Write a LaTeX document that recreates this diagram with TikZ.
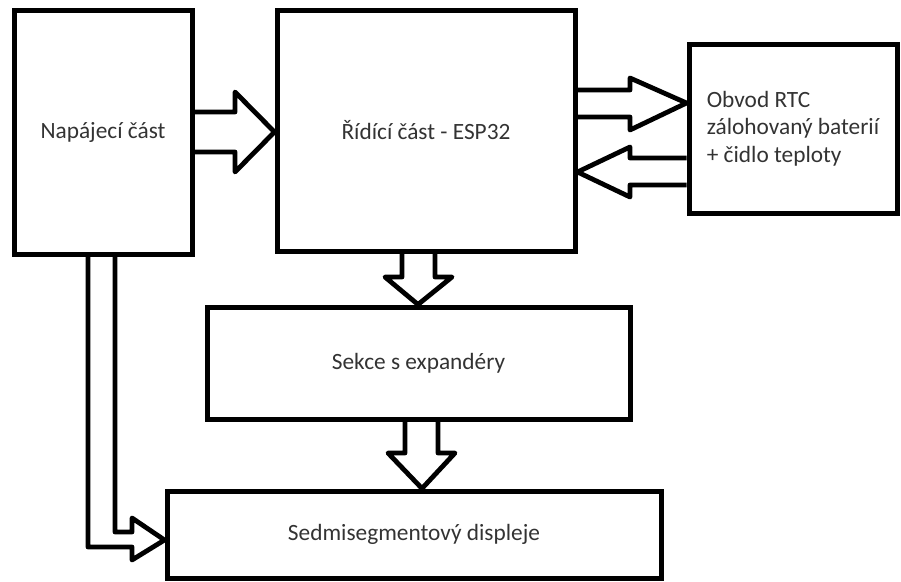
\documentclass[tikz,border=0pt]{standalone}
\usepackage{fontspec}
\setmainfont{Carlito}

\begin{document}
\begin{tikzpicture}[x=0.75pt,y=-0.75pt,
        blok/.style={draw,line width=3.75pt,inner sep=0pt,text=black!80,font=\fontsize{17.5}{20.5}\selectfont},
        sipka/.style={draw,line width=3.6pt,line join=round}]
        \useasboundingbox (0,0) rectangle (901,582);

        \coordinate (c1) at (103,132);
        \coordinate (c2) at (426,130.5);
        \coordinate (c3) at (418.5,363);
        \coordinate (c4) at (414,534.5);
        \coordinate (c5) at (793,128.5);

        \node[blok,minimum width=133.5pt,minimum height=183pt] (nap) at (c1){Napájecí část};
        \node[blok,minimum width=223.5pt,minimum height=180.75pt] (ridici) at (c2){Řídící část - ESP32};
        \node[blok,minimum width=317.25pt,minimum height=84pt] (sekce) at (c3){Sekce s expandéry};
        \node[blok,minimum width=370.5pt,minimum height=65.25pt] (sedmi) at (c4){Sedmisegmentový displeje};
        \node[blok,minimum width=156pt,minimum height=126.75pt,align=left] (rtc) at (c5){Obvod RTC\\zálohovaný baterií\\+ čidlo teploty};

        % napajeni -> ridici cast
        \draw[sipka] (nap.east |- 0,112) -- (235,112) -- (235,92) -- (ridici.west |- 0,132) -- (235,172) -- (235,152) -- (nap.east |- 0,152);
        % ridici cast <-> RTC
        \draw[sipka] (ridici.east |- 0,90) -- (630,90) -- (630,78) -- (rtc.west |- 0,103) -- (630,130) -- (630,117) -- (ridici.east |- 0,117);
        \draw[sipka] (rtc.west |- 0,158) -- (630,158) -- (630,147) -- (ridici.east |- 0,172) -- (630,197) -- (630,185) -- (rtc.west |- 0,185);
        % dolu
        \draw[sipka] (402,0 |- ridici.south) -- (402,277) -- (385,277) -- (418,0 |- sekce.north) -- (452,277) -- (435,277) -- (435,0 |- ridici.south);
        \draw[sipka] (405,0 |- sekce.south) -- (405,453) -- (388,453) -- (422,0 |- sedmi.north) -- (455,453) -- (438,453) -- (438,0 |- sekce.south);
        % napajeni -> displeje
        \draw[sipka] (88,0 |- nap.south) -- (88,547) -- (132,547) -- (132,560) -- (sedmi.west |- 0,540) -- (132,518) -- (132,532) -- (115,532) -- (115,0 |- nap.south);
\end{tikzpicture}
\end{document}
